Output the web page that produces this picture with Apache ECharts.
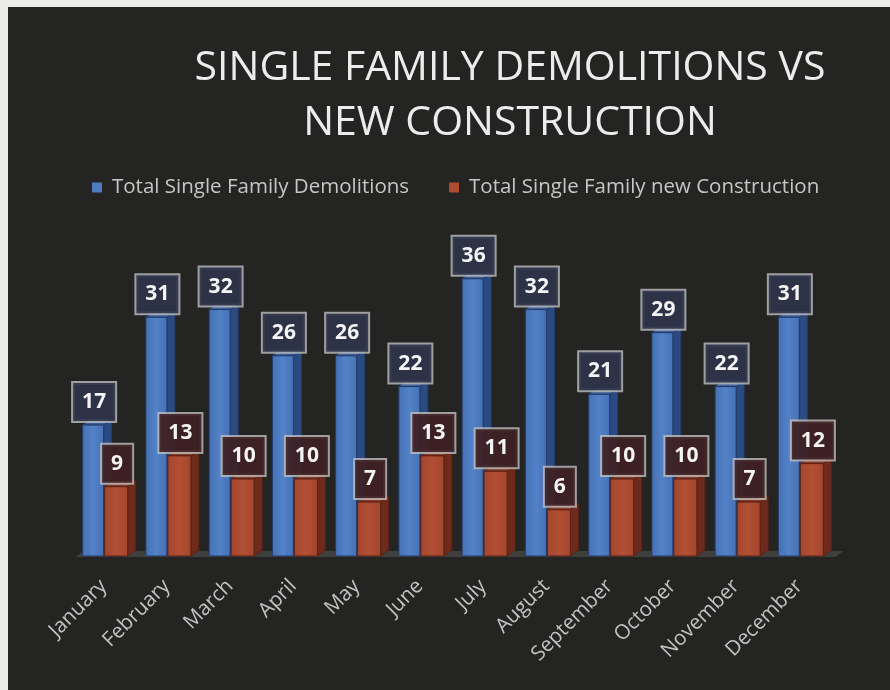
<!DOCTYPE html>
<html>
<head>
<meta charset="utf-8">
<script src="https://cdn.jsdelivr.net/npm/echarts@6/dist/echarts.min.js"></script>
<style>
html,body{margin:0;padding:0;background:#242423;}
#chart{width:890px;height:690px;}
</style>
</head>
<body>
<div id="chart"></div>
<script>
const months = ['January','February','March','April','May','June','July','August','September','October','November','December'];
const demolitions = [17,31,32,26,26,22,36,32,21,29,22,31];
const newConstruction = [9,13,10,10,7,13,11,6,10,10,7,12];
const seriesNames = ['Total Single Family Demolitions','Total Single Family new Construction'];
const titleText = 'SINGLE FAMILY DEMOLITIONS VS\nNEW CONSTRUCTION';

const FONT = '"Open Sans", "Noto Sans", sans-serif';
const DX = 8, DY = -6;

function box(api, idx, val, off0, off1, cols, labelBg) {
  const base = api.coord([idx, 0]);
  const top = api.coord([idx, val]);
  const cx = base[0];
  const x0 = cx + off0, x1 = cx + off1;
  const by = base[1], ty = top[1];
  return {
    type: 'group',
    children: [
      {type: 'polygon', shape: {points: [[x1, ty], [x1 + DX, ty + DY], [x1 + DX, by + DY], [x1, by]]},
        style: {fill: cols.side, stroke: cols.edge, lineWidth: 1}},
      {type: 'polygon', shape: {points: [[x0, ty], [x1, ty], [x1 + DX, ty + DY], [x0 + DX, ty + DY]]},
        style: {fill: cols.top, stroke: cols.edge, lineWidth: 1}},
      {type: 'rect', shape: {x: x0, y: ty, width: x1 - x0, height: by - ty},
        style: {fill: new echarts.graphic.LinearGradient(0, 0, 1, 0, [
          {offset: 0, color: cols.front1}, {offset: 0.5, color: cols.front2}, {offset: 1, color: cols.front1}]),
          stroke: cols.edge, lineWidth: 1}},
      {type: 'text', x: (x0 + x1) / 2 + 1, y: ty - 4, z2: 20,
        style: {text: String(val), fill: '#f4f4f4', font: 'bold 21px ' + FONT,
          align: 'center', verticalAlign: 'bottom', lineHeight: 24,
          backgroundColor: labelBg, borderColor: 'rgba(190,190,190,0.8)', borderWidth: 2,
          padding: [7, 9, 7, 9]}}
    ]
  };
}

const blueCols = {front1: '#4670b3', front2: '#5382c8', side: '#2b4a82', top: '#3c5f9c', edge: '#233c6a'};
const redCols = {front1: '#a3462d', front2: '#b24f34', side: '#6e2b1c', top: '#8a3a26', edge: '#5a2316'};

const chart = echarts.init(document.getElementById('chart'));
chart.setOption({
  backgroundColor: '#242423',
  animation: false,
  title: {
    text: titleText,
    left: 505, top: 36, textAlign: 'center',
    textStyle: {color: '#ececec', fontSize: 41, fontWeight: 'normal', fontFamily: FONT, lineHeight: 55}
  },
  legend: {
    data: seriesNames,
    left: 87, top: 172,
    icon: 'rect', itemWidth: 10, itemHeight: 10, itemGap: 40,
    textStyle: {color: '#c6c6c6', fontSize: 20.5, fontFamily: FONT, padding: [0, 0, 0, 5]}
  },
  graphic: [
    {type: 'rect', shape: {x: 0, y: 0, width: 890, height: 7}, style: {fill: '#ebebe9'}, z: 100},
    {type: 'rect', shape: {x: 0, y: 0, width: 8, height: 690}, style: {fill: '#ebebe9'}, z: 100}
  ],
  grid: {left: 72, right: 59, top: 248, bottom: 134},
  xAxis: {
    type: 'category', data: months,
    axisLine: {show: false}, axisTick: {show: false},
    axisLabel: {rotate: 45, margin: 27, color: '#c2c2c2', fontSize: 20.5, fontFamily: FONT}
  },
  yAxis: {type: 'value', min: 0, max: 40, show: false, splitLine: {show: false}},
  series: [
    {
      type: 'custom', name: 'floor', silent: true, legendHoverLink: false,
      data: months.map((m, i) => [i, 0]),
      renderItem: function (params, api) {
        const b = api.coord([params.dataIndex, 0]);
        const x0 = b[0] - 28, x1 = b[0] + 36, y = b[1] + 1;
        return {type: 'polygon', shape: {points: [[x0, y], [x1, y], [x1 + DX, y + DY], [x0 + DX, y + DY]]},
          style: {fill: '#3f3f3d'}};
      }
    },
    {
      type: 'custom', name: seriesNames[0],
      itemStyle: {color: '#4f7bc0'},
      data: demolitions.map((v, i) => [i, v]),
      encode: {x: 0, y: 1},
      renderItem: function (params, api) {
        return box(api, params.dataIndex, api.value(1), -21, 0, blueCols, 'rgba(46,52,74,0.93)');
      }
    },
    {
      type: 'custom', name: seriesNames[1],
      itemStyle: {color: '#b04a30'},
      data: newConstruction.map((v, i) => [i, v]),
      encode: {x: 0, y: 1},
      renderItem: function (params, api) {
        return box(api, params.dataIndex, api.value(1), 1, 24, redCols, 'rgba(62,32,36,0.93)');
      }
    }
  ]
});
</script>
</body>
</html>
